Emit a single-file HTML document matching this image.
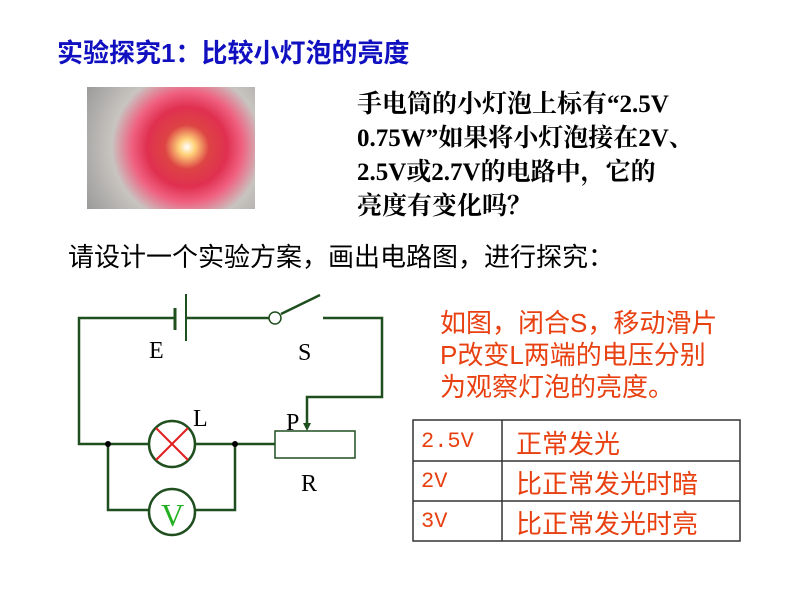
<!DOCTYPE html>
<html><head><meta charset="utf-8"><style>
body{margin:0;width:800px;height:600px;background:#fff;position:relative;overflow:hidden;font-family:"Liberation Serif","Noto Serif CJK SC",serif}
.t{position:absolute;white-space:nowrap}
.s{font-family:'Liberation Sans','Noto Sans CJK SC',sans-serif}
</style></head><body>
<div class="t s" style="left:57px;top:33px;font-size:26px;font-weight:bold;color:#1010c0;">实验探究1：比较小灯泡的亮度</div>
<div style="position:absolute;left:87px;top:87px;width:168px;height:122px;background:radial-gradient(circle at 100px 60px,#fff 0,#ffd27a 8px,#d44 22px,#e03050 40px,#f06080 55px,#c8c4c0 75px,#9a9a9a 100%);"></div>
<div class="t" style="left:357px;top:88px;font-size:25px;font-weight:bold;line-height:34px;">手电筒的小灯泡上标有“2.5V<br>0.75W”如果将小灯泡接在2V、<br>2.5V或2.7V的电路中，它的<br>亮度有变化吗？</div>
<div class="t s" style="left:68px;top:237px;font-size:26px;">请设计一个实验方案，画出电路图，进行探究：</div>
<svg width="800" height="600" style="position:absolute;left:0;top:0">
<g stroke="#1f4f1f" stroke-width="2.5" fill="none">
<polyline points="175,318 79,318 79,444 150,444"/>
<line x1="186" y1="318" x2="269" y2="318"/>
<line x1="175" y1="308" x2="175" y2="330" stroke-width="3"/>
<line x1="186" y1="294" x2="186" y2="341" stroke-width="2"/>
<circle cx="275" cy="318" r="6" stroke-width="1.5" fill="#fff"/>
<line x1="281" y1="314" x2="320" y2="295"/>
<polyline points="323,318 382,318 382,397 307,397 307,426"/>
<line x1="194" y1="444" x2="275" y2="444"/>
<polyline points="108,444 108,510 149,510"/>
<polyline points="195,510 235,510 235,444"/>
<rect x="275" y="431" width="80" height="27" stroke-width="1.5"/>
<circle cx="172" cy="444" r="23"/>
<circle cx="172" cy="512" r="23"/>
</g>
<polygon points="303,423 311,423 307,431" fill="#1f4f1f"/>
<g stroke="#e02020" stroke-width="2"><line x1="156" y1="428" x2="188" y2="460"/><line x1="188" y1="428" x2="156" y2="460"/></g>
<circle cx="108" cy="444" r="3" fill="#000"/><circle cx="235" cy="444" r="3" fill="#000"/>
<g font-family="Liberation Serif,serif" font-size="24" fill="#000">
<text x="149" y="358">E</text><text x="298" y="360">S</text><text x="193" y="426">L</text><text x="286" y="430">P</text><text x="301" y="491">R</text>
</g>
<text x="161" y="526" font-family="Liberation Serif,serif" font-size="32" fill="#20b020">V</text>
<g stroke="#333" stroke-width="1.5" fill="none">
<rect x="413" y="420" width="327" height="121"/>
<line x1="502" y1="420" x2="502" y2="541"/>
<line x1="413" y1="461" x2="740" y2="461"/>
<line x1="413" y1="501" x2="740" y2="501"/>
</g>
</svg>
<div class="t s" style="left:440px;top:307px;font-size:26px;line-height:32px;color:#e84010;">如图，闭合S，移动滑片<br>P改变L两端的电压分别<br>为观察灯泡的亮度。</div>
<div class="t" style="left:421px;top:429px;font-size:22px;color:#e84010;font-family:'Liberation Mono',monospace">2.5V</div>
<div class="t" style="left:421px;top:469px;font-size:22px;color:#e84010;font-family:'Liberation Mono',monospace">2V</div>
<div class="t" style="left:421px;top:509px;font-size:22px;color:#e84010;font-family:'Liberation Mono',monospace">3V</div>
<div class="t s" style="left:516px;top:424px;font-size:26px;color:#e84010;">正常发光</div>
<div class="t s" style="left:516px;top:464px;font-size:26px;color:#e84010;">比正常发光时暗</div>
<div class="t s" style="left:516px;top:504px;font-size:26px;color:#e84010;">比正常发光时亮</div>
</body></html>
